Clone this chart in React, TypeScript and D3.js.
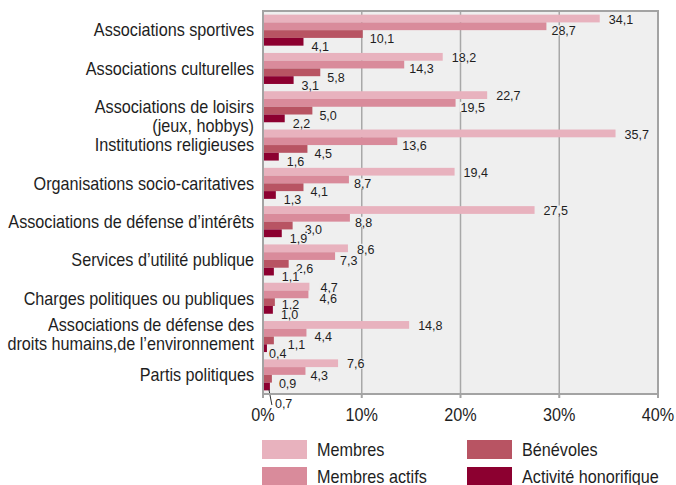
import React from "react";
import * as d3 from "d3";

// data
const categories = [
  "Associations sportives",
  "Associations culturelles",
  "Associations de loisirs\n(jeux, hobbys)",
  "Institutions religieuses",
  "Organisations socio-caritatives",
  "Associations de défense d’intérêts",
  "Services d’utilité publique",
  "Charges politiques ou publiques",
  "Associations de défense des\ndroits humains,de l’environnement",
  "Partis politiques",
];
const seriesNames = ["Membres", "Membres actifs", "Bénévoles", "Activité honorifique"];
const membres = [34.1, 18.2, 22.7, 35.7, 19.4, 27.5, 8.6, 4.7, 14.8, 7.6];
const membresActifs = [28.7, 14.3, 19.5, 13.6, 8.7, 8.8, 7.3, 4.6, 4.4, 4.3];
const benevoles = [10.1, 5.8, 5.0, 4.5, 4.1, 3.0, 2.6, 1.2, 1.1, 0.9];
const honorifique = [4.1, 3.1, 2.2, 1.6, 1.3, 1.9, 1.1, 1.0, 0.4, 0.7];
const xTicks = [0, 10, 20, 30, 40];

const values = [membres, membresActifs, benevoles, honorifique];

// styles
const colors = ["#e8b2be", "#d98b9b", "#b85463", "#8c0030"];
const FONT = "'Liberation Sans', Arial, sans-serif";
const labelDx = [9, 5, 7, 8];
const labelDy = [0.5, 4, 4.5, 4.7];
// a few labels the original moved by hand
const labelNudge: Record<string, [number, number]> = {
  "5-2": [5, -1],
  "7-0": [2, 0],
  "7-1": [6, 0],
  "7-2": [0, -2],
  "8-1": [3, 0],
  "8-2": [7, -1],
  "8-3": [-6, 0],
};
const catShift: Record<number, number> = { 2: 9, 8: -2 };

const W = 676, H = 485;
const plot = { left: 263, right: 658, top: 11, bottom: 394 };

const fmt = (v: number) => v.toFixed(1).replace(".", ",");

// condensed text drawn at (x, y)
const T = ({ x, y, size, squeeze = 0.9, anchor = "start", children }: any) => (
  <text transform={`translate(${x},${y}) scale(${squeeze},1)`} textAnchor={anchor} dy="0.35em"
    fontSize={size} fill="#1e1e1e">{children}</text>
);

export default function App() {
  const x = d3.scaleLinear().domain([0, 40]).range([plot.left, plot.right]);
  const y = d3.scaleBand<number>()
    .domain(d3.range(categories.length))
    .range([plot.top, plot.bottom])
    .paddingInner(0.19)
    .paddingOuter(0.095);
  const yInner = d3.scaleBand<number>().domain(d3.range(4)).range([0, y.bandwidth()]);

  const bars: JSX.Element[] = [];
  const labels: JSX.Element[] = [];
  categories.forEach((_, ci) => {
    values.forEach((arr, si) => {
      const v = arr[ci];
      const by = (y(ci) as number) + (yInner(si) as number);
      const bh = yInner.bandwidth();
      bars.push(
        <rect key={`b${ci}-${si}`} x={x(0)} y={by} width={x(v) - x(0)} height={bh} fill={colors[si]} />
      );
      const txt = fmt(v);
      const tw = txt.length * 6.4;
      // last small label goes under the axis with a leader line
      if (ci === categories.length - 1 && si === 3) {
        const lx = x(v) + 5, ly = plot.bottom + 9;
        labels.push(
          <g key={`l${ci}-${si}`}>
            <line x1={x(v) - 1} y1={by + bh - 1} x2={x(v) + 2} y2={ly + 2} stroke="#333" strokeWidth={1} />
            <T x={lx} y={ly} size={13.5} squeeze={0.93}>{txt}</T>
          </g>
        );
        return;
      }
      const nudge = labelNudge[`${ci}-${si}`] || [0, 0];
      const lx = x(v) + labelDx[si] + nudge[0];
      const ly = by + bh / 2 + labelDy[si] + nudge[1];
      labels.push(
        <g key={`l${ci}-${si}`}>
          <rect x={lx - 1} y={ly - 5} width={tw} height={10} fill="#efefef" />
          <T x={lx} y={ly} size={13.5} squeeze={0.93}>{txt}</T>
        </g>
      );
    });
  });

  return (
    <svg width={W} height={H} style={{ position: "absolute", left: 0, top: 0, background: "#fff" }} fontFamily={FONT}>
      <rect x={plot.left} y={plot.top} width={plot.right - plot.left} height={plot.bottom - plot.top} fill="#efefef" />
      {xTicks.slice(1, -1).map(t => (
        <line key={t} x1={x(t)} x2={x(t)} y1={plot.top} y2={plot.bottom} stroke="#a8a8a8" strokeWidth={1.5} />
      ))}
      {bars}
      {labels}
      {/* frame */}
      <rect x={plot.left} y={plot.top} width={plot.right - plot.left} height={plot.bottom - plot.top}
        fill="none" stroke="#a3a3a3" strokeWidth={2} />
      {xTicks.map(t => (
        <g key={t}>
          <line x1={x(t)} x2={x(t)} y1={plot.bottom} y2={plot.bottom + 4} stroke="#a3a3a3" strokeWidth={2} />
          <T x={x(t)} y={415} size={18} anchor="middle">{t}%</T>
        </g>
      ))}
      {categories.map((c, ci) => {
        const lines = c.split("\n");
        const cy = (y(ci) as number) + y.bandwidth() / 2 + (catShift[ci] || 0);
        return lines.map((ln, li) => (
          <T key={`${ci}-${li}`} x={254} y={cy + (li - (lines.length - 1) / 2) * 19} size={18} anchor="end">{ln}</T>
        ));
      })}
      {/* legend */}
      {seriesNames.map((s, si) => {
        const col = si < 2 ? 0 : 1;
        const row = si % 2;
        const lx = 262 + col * 205;
        const ly = 440 + row * 27;
        return (
          <g key={s}>
            <rect x={lx} y={ly} width={45} height={19} fill={colors[si]} />
            <T x={lx + 55} y={ly + 10} size={18}>{s}</T>
          </g>
        );
      })}
    </svg>
  );
}
